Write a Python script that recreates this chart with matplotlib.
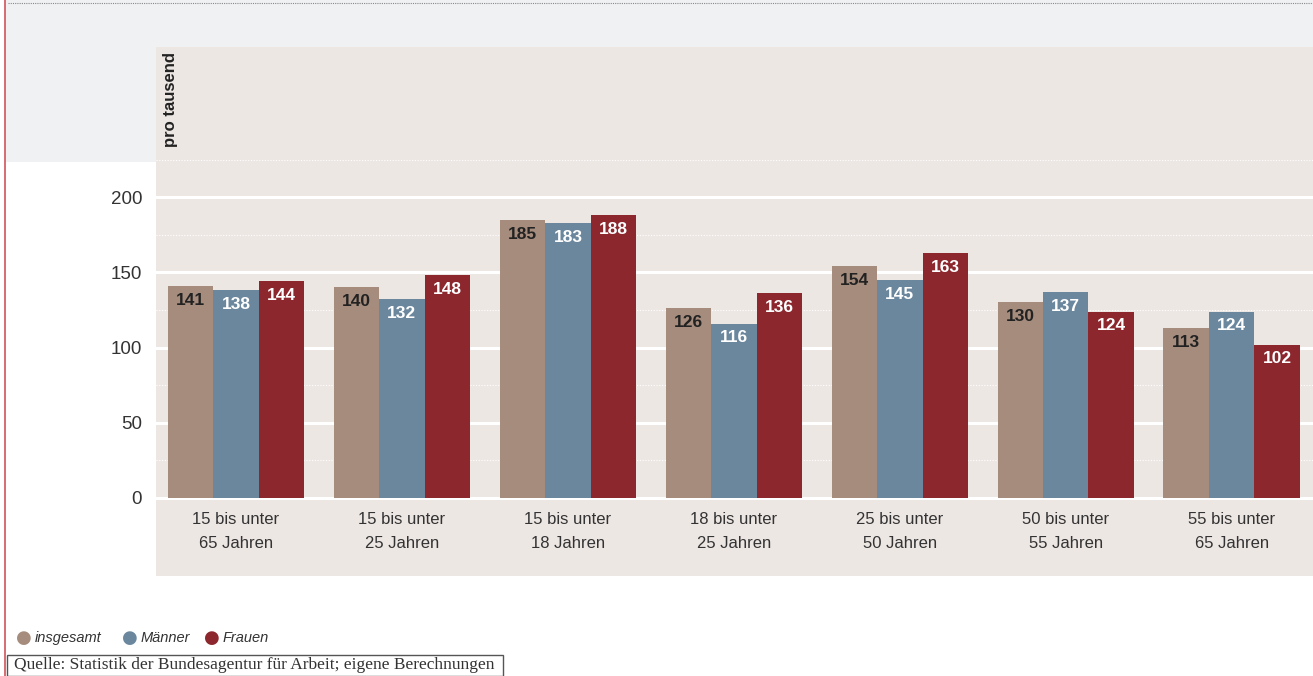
import matplotlib.pyplot as plt
import numpy as np
from matplotlib.patches import Rectangle
from matplotlib.lines import Line2D

# data (pro tausend)
categories = ['15 bis unter\n65 Jahren', '15 bis unter\n25 Jahren', '15 bis unter\n18 Jahren',
              '18 bis unter\n25 Jahren', '25 bis unter\n50 Jahren', '50 bis unter\n55 Jahren',
              '55 bis unter\n65 Jahren']
insgesamt = [141, 140, 185, 126, 154, 130, 113]
maenner = [138, 132, 183, 116, 145, 137, 124]
frauen = [144, 148, 188, 136, 163, 124, 102]
series_names = ['insgesamt', 'Männer', 'Frauen']
colors = ['#a58c7d', '#6b879e', '#8b272d']
label_colors = ['#222222', 'white', 'white']
yticks = [0, 50, 100, 150, 200]

plt.rcParams['font.family'] = ['Liberation Sans Narrow', 'Liberation Sans', 'DejaVu Sans']

W, H = 1313, 676
fig = plt.figure(figsize=(W / 100, H / 100), dpi=100)
fig.patch.set_facecolor('white')

def fx(px):
    return px / W

def fy(py):
    return 1 - py / H

# grey band at the top (behind the chart panel)
fig.patches.append(Rectangle((fx(5), fy(162)), 1 - fx(5), 162 / H, transform=fig.transFigure,
                             facecolor='#f0f1f3', edgecolor='none', zorder=-5))
# dotted top rule and red left rule
fig.lines.append(Line2D([fx(8), 1], [fy(3), fy(3)], transform=fig.transFigure,
                        color='#888888', lw=0.8, ls=(0, (1, 1)), zorder=5))
fig.lines.append(Line2D([fx(5), fx(5)], [0, 1], transform=fig.transFigure,
                        color='#d0545a', lw=1.2, zorder=5))

ax = fig.add_axes([fx(156), fy(576), 1 - fx(156), (576 - 47) / H])
ax.set_zorder(1)
ax.set_facecolor('#ede7e4')
ax.set_xlim(-0.482, 6.49)
ax.set_ylim(-52, 300)
for s in ax.spines.values():
    s.set_visible(False)

for v in yticks:
    ax.axhline(v, color='white', lw=2.2, zorder=1)
for v in [25, 75, 125, 175, 225]:
    ax.axhline(v, color='white', lw=0.8, ls=(0, (1, 1.5)), zorder=1)

x = np.arange(len(categories))
w = 0.274
for i, (vals, c, lc) in enumerate(zip([insgesamt, maenner, frauen], colors, label_colors)):
    pos = x + (i - 1) * w
    ax.bar(pos, vals, width=w, color=c, zorder=2)
    for p, v in zip(pos, vals):
        ax.text(p, v - 4.5, str(v), ha='center', va='top', fontsize=12.5,
                fontweight='bold', color=lc, zorder=3)

ax.set_xticks([])
ax.set_yticks(yticks)
ax.set_yticklabels([str(v) for v in yticks], fontsize=13.5, color='#333333')
ax.tick_params(axis='y', length=0, pad=10)
ax.tick_params(axis='x', length=0)

for xi, cat in zip(x, categories):
    ax.text(xi, -9.5, cat, ha='center', va='top', fontsize=12, color='#333333',
            linespacing=1.75)

ax.text(0.006, 0.99, 'pro tausend', transform=ax.transAxes, rotation=90, ha='left', va='top',
        fontsize=12, fontweight='bold', color='#222222')

# legend
leg_x = [24, 130, 212]
for lx, name, c in zip(leg_x, series_names, colors):
    fig.text(fx(lx), fy(638), '\u25cf', color=c, fontsize=13, ha='center', va='center',
             family='DejaVu Sans')
    fig.text(fx(lx + 11), fy(638), name, color='#333333', fontsize=10.5, style='italic',
             ha='left', va='center')

fig.text(fx(14), fy(665), 'Quelle: Statistik der Bundesagentur für Arbeit; eigene Berechnungen',
         family=['Liberation Serif', 'DejaVu Serif'], fontsize=12.5, color='#333333',
         ha='left', va='center')
fig.patches.append(Rectangle((fx(7), 0), fx(503) - fx(7), 21 / H, transform=fig.transFigure,
                             facecolor='none', edgecolor='#555555', lw=1))

fig.savefig('out.png', dpi=100)
